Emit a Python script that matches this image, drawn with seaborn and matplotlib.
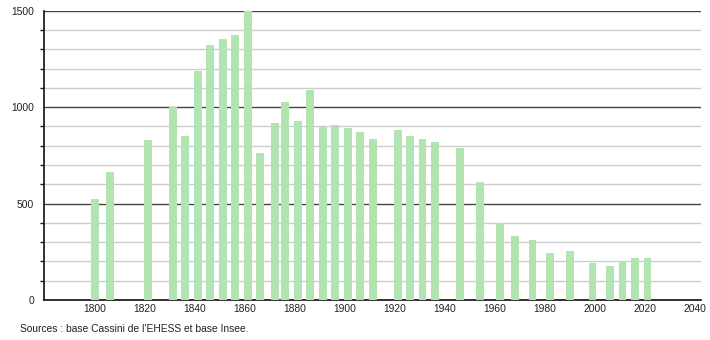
import matplotlib
matplotlib.use("Agg")
import matplotlib.pyplot as plt
from matplotlib.ticker import MultipleLocator
import seaborn as sns
import pandas as pd

years = [1800, 1806, 1821, 1831, 1836, 1841, 1846, 1851, 1856, 1861, 1866,
         1872, 1876, 1881, 1886, 1891, 1896, 1901, 1906, 1911, 1921, 1926,
         1931, 1936, 1946, 1954, 1962, 1968, 1975, 1982, 1990, 1999, 2006,
         2011, 2016, 2021]
population = [522, 665, 829, 999, 852, 1187, 1322, 1351, 1374, 1500, 760,
              916, 1026, 928, 1089, 898, 907, 890, 873, 835, 881, 850,
              833, 817, 786, 610, 397, 332, 311, 242, 254, 193, 178,
              202, 216, 216]
x_ticks = [1800, 1820, 1840, 1860, 1880, 1900, 1920, 1940, 1960, 1980, 2000, 2020, 2040]
y_ticks = [0, 500, 1000, 1500]
source_text = "Sources : base Cassini de l'EHESS et base Insee."

sns.set_theme(style="white")
plt.rcParams['font.family'] = ['Liberation Sans', 'DejaVu Sans']

df = pd.DataFrame({"year": years, "pop": population})

fig = plt.figure(figsize=(7.1, 3.4), dpi=100)
ax = fig.add_axes([44 / 710, 40 / 340, (701 - 44) / 710, (300 - 10.7) / 340])

sns.barplot(data=df, x="year", y="pop", native_scale=True, width=0.8,
            color="#b2e4b2", saturation=1, ax=ax, zorder=3, linewidth=0)

ax.set_xlim(1779.6, 2042.4)
ax.set_ylim(0, 1500)
ax.set_xticks(x_ticks)
ax.set_xticklabels([str(t) for t in x_ticks])
ax.set_yticks(y_ticks)
ax.set_yticklabels([str(t) for t in y_ticks])
ax.yaxis.set_minor_locator(MultipleLocator(100))

ax.grid(False)
ax.set_axisbelow(True)
ax.grid(True, which="minor", axis="y", color="#cccccc", linewidth=1, zorder=0)
ax.grid(True, which="major", axis="y", color="#444444", linewidth=1, zorder=1)

for side in ["top", "right"]:
    ax.spines[side].set_visible(False)
for side in ["left", "bottom"]:
    ax.spines[side].set_visible(True)
    ax.spines[side].set_color("#111111")
    ax.spines[side].set_linewidth(1.2)

ax.tick_params(axis="y", which="major", direction="out", length=5, width=1,
               color="#111111", labelsize=7.4, labelcolor="#222222", pad=2)
ax.tick_params(axis="y", which="minor", direction="out", length=3, width=1,
               color="#111111", left=True)
ax.tick_params(axis="x", which="both", length=0, labelsize=7.4,
               labelcolor="#222222", pad=3)

ax.set_xlabel("")
ax.set_ylabel("")

fig.text(20 / 710, 1 - 329 / 340, source_text, fontsize=7.4, color="#222222",
         ha="left", va="center")

fig.savefig("out.png", dpi=100)
